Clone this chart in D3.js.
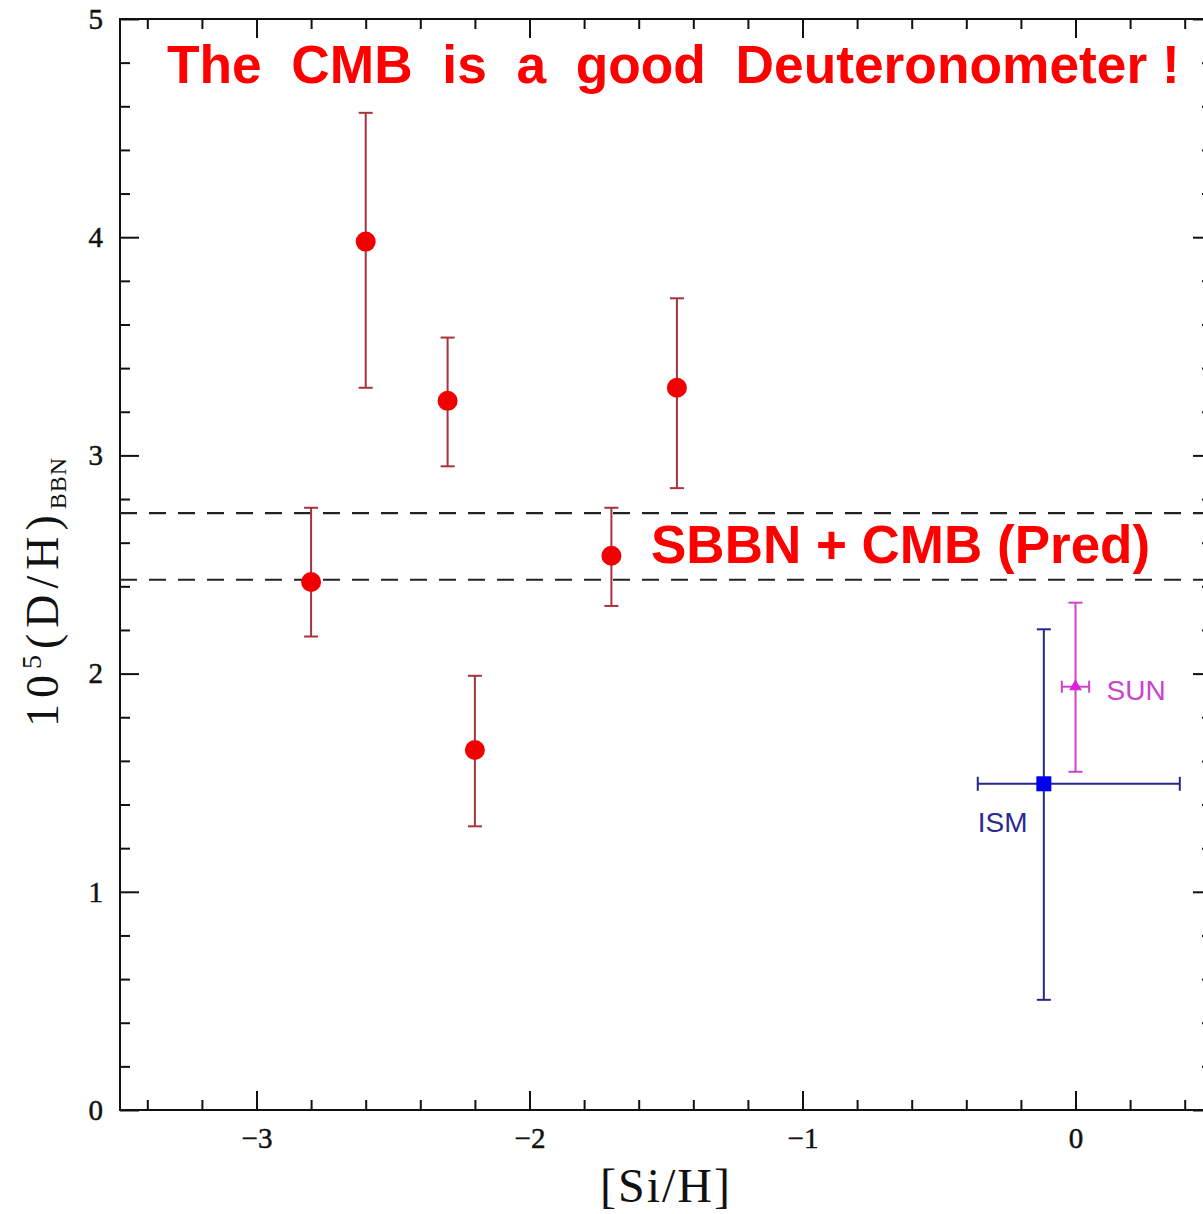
<!DOCTYPE html>
<html>
<head>
<meta charset="utf-8">
<script src="https://cdn.jsdelivr.net/npm/d3@7"></script>
<style>
  html, body { margin: 0; padding: 0; background: #fff; }
  svg { display: block; }
</style>
</head>
<body>
<svg id="chart" width="1203" height="1214"></svg>
<script>
// Quasar absorber deuterium measurements vs metallicity
const siH     = [-2.8, -2.6, -2.3, -2.2, -1.7, -1.46];
const dh      = [2.42, 3.98, 3.25, 1.65, 2.54, 3.31];
const dhHigh  = [2.76, 4.57, 3.54, 1.99, 2.76, 3.72];
const dhLow   = [2.17, 3.31, 2.95, 1.30, 2.31, 2.85];

// SBBN + CMB predicted band
const predBand = [2.43, 2.735];

// Local measurements: [Si/H], D/H, x-range, y-range
const ismPoint = { x: -0.116, y: 1.495, xLo: -0.358, xHi: 0.382, yLo: 0.505, yHi: 2.203 };
const sunPoint = { x: 0.0, y: 1.94, xLo: -0.05, xHi: 0.05, yLo: 1.55, yHi: 2.325 };

const xMajor = [-3, -2, -1, 0];
const yMajor = [0, 1, 2, 3, 4, 5];

const svg = d3.select("#chart");
const plot = { left: 120, right: 1212, top: 19, bottom: 1110 };

const x = d3.scaleLinear().domain([-3.5, 0.5]).range([plot.left, plot.right]);
const y = d3.scaleLinear().domain([0, 5]).range([plot.bottom, plot.top]);

const xMinor = d3.range(-3.4, 0.5, 0.2).map(v => +v.toFixed(1)).filter(v => !Number.isInteger(v));
const yMinor = d3.range(0.2, 5, 0.2).map(v => +v.toFixed(1)).filter(v => !Number.isInteger(v));

const serif = "'Liberation Serif', 'DejaVu Serif', serif";
const sans = "'Liberation Sans', Arial, sans-serif";

// Frame
svg.append("rect")
  .attr("x", plot.left).attr("y", plot.top)
  .attr("width", plot.right - plot.left).attr("height", plot.bottom - plot.top)
  .attr("fill", "none").attr("stroke", "#111").attr("stroke-width", 2);

function styleAxis(g) {
  g.select(".domain").remove();
  g.selectAll(".tick line").attr("stroke", "#111").attr("stroke-width", 2);
}

// Major and minor ticks on all four sides, pointing inward
const axes = [
  [d3.axisBottom(x), `translate(0,${plot.bottom})`, xMajor, xMinor, true],
  [d3.axisTop(x), `translate(0,${plot.top})`, xMajor, xMinor, false],
  [d3.axisLeft(y), `translate(${plot.left},0)`, yMajor, yMinor, true],
  [d3.axisRight(y), `translate(${plot.right},0)`, yMajor, yMinor, false]
];
axes.forEach(([ax, tr, major, minor, labelled]) => {
  svg.append("g").attr("transform", tr)
    .call(ax.tickValues(minor).tickSize(-10).tickFormat(""))
    .call(styleAxis);
  const g = svg.append("g").attr("transform", tr)
    .call(ax.tickValues(major).tickSize(-19).tickPadding(labelled ? 17 : 0)
      .tickFormat(labelled ? (d => d < 0 ? "\u2212" + Math.abs(d) : d) : ""))
    .call(styleAxis);
  g.selectAll("text").attr("font-family", serif).attr("font-size", 29)
    .attr("fill", "#111").attr("stroke", "#111").attr("stroke-width", 0.5);
});

// Prediction band boundaries
svg.append("g").selectAll("line").data(predBand).join("line")
  .attr("x1", plot.left).attr("x2", plot.right)
  .attr("y1", d => y(d)).attr("y2", d => y(d))
  .attr("stroke", "#222").attr("stroke-width", 2.2)
  .attr("stroke-dasharray", "17,12");

// Error bars with caps
function errorBar(g, cx, lo, hi, color, cap, width) {
  g.append("line").attr("x1", x(cx)).attr("x2", x(cx)).attr("y1", y(lo)).attr("y2", y(hi))
    .attr("stroke", color).attr("stroke-width", width);
  [lo, hi].forEach(v => g.append("line")
    .attr("x1", x(cx) - cap).attr("x2", x(cx) + cap).attr("y1", y(v)).attr("y2", y(v))
    .attr("stroke", color).attr("stroke-width", width));
}
function errorBarX(g, cy, lo, hi, color, cap, width) {
  g.append("line").attr("x1", x(lo)).attr("x2", x(hi)).attr("y1", y(cy)).attr("y2", y(cy))
    .attr("stroke", color).attr("stroke-width", width);
  [lo, hi].forEach(v => g.append("line")
    .attr("x1", x(v)).attr("x2", x(v)).attr("y1", y(cy) - cap).attr("y2", y(cy) + cap)
    .attr("stroke", color).attr("stroke-width", width));
}

// Absorber points
const pts = svg.append("g");
siH.forEach((sx, i) => errorBar(pts, sx, dhLow[i], dhHigh[i], "#a8323c", 7, 2));
pts.selectAll("circle").data(siH).join("circle")
  .attr("cx", d => x(d)).attr("cy", (d, i) => y(dh[i])).attr("r", 10)
  .attr("fill", "#f00000");

// ISM
const ism = svg.append("g");
errorBar(ism, ismPoint.x, ismPoint.yLo, ismPoint.yHi, "#26268a", 7, 2);
errorBarX(ism, ismPoint.y, ismPoint.xLo, ismPoint.xHi, "#26268a", 7, 2);
ism.append("rect")
  .attr("x", x(ismPoint.x) - 7.5).attr("y", y(ismPoint.y) - 7.5)
  .attr("width", 15).attr("height", 15).attr("fill", "#0000ee");
ism.append("text").attr("x", x(ismPoint.x) - 66).attr("y", y(ismPoint.y) + 48)
  .attr("font-family", sans).attr("font-size", 28).attr("fill", "#2a2a90").text("ISM");

// Sun
const sun = svg.append("g");
errorBar(sun, sunPoint.x, sunPoint.yLo, sunPoint.yHi, "#cc44cc", 7, 2);
errorBarX(sun, sunPoint.y, sunPoint.xLo, sunPoint.xHi, "#cc44cc", 6, 2);
sun.append("path")
  .attr("transform", `translate(${x(sunPoint.x)},${y(sunPoint.y)})`)
  .attr("d", d3.symbol(d3.symbolTriangle, 70)())
  .attr("fill", "#dd22dd");
sun.append("text").attr("x", x(sunPoint.x) + 31).attr("y", y(sunPoint.y) + 13)
  .attr("font-family", sans).attr("font-size", 28).attr("fill", "#cc44cc").text("SUN");

// Annotations
svg.append("text").attr("x", 167).attr("y", 83)
  .attr("font-family", sans).attr("font-weight", "bold").attr("font-size", 53.3)
  .attr("fill", "#ff0000").attr("xml:space", "preserve")
  .text("The  CMB  is  a  good  Deuteronometer !");
svg.append("text").attr("x", 651).attr("y", 563)
  .attr("font-family", sans).attr("font-weight", "bold").attr("font-size", 53)
  .attr("fill", "#ff0000")
  .text("SBBN + CMB (Pred)");

// Axis titles
svg.append("text").attr("x", 666).attr("y", 1202).attr("text-anchor", "middle")
  .attr("font-family", serif).attr("font-size", 48).attr("letter-spacing", 2)
  .attr("fill", "#111")
  .text("[Si/H]");

const yl = svg.append("text")
  .attr("transform", "translate(58,592) rotate(-90)")
  .attr("text-anchor", "middle")
  .attr("font-family", serif).attr("font-size", 46).attr("letter-spacing", 6)
  .attr("fill", "#111");
yl.append("tspan").text("10");
yl.append("tspan").attr("font-size", 28).attr("dy", -17).text("5");
yl.append("tspan").attr("dy", 17).text("(D/H)");
yl.append("tspan").attr("font-size", 24).attr("letter-spacing", 1).attr("dy", 8).text("BBN");
</script>
</body>
</html>
